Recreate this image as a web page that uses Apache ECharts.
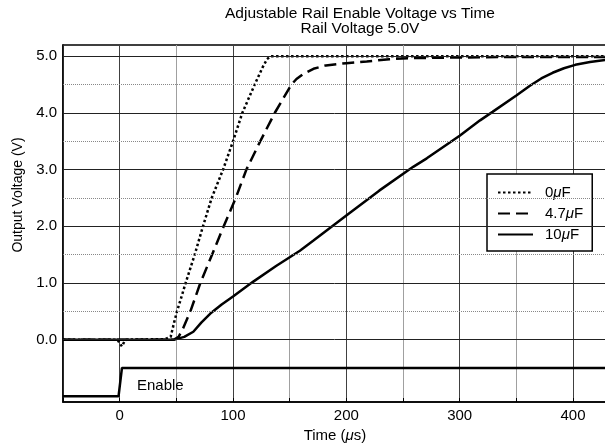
<!DOCTYPE html>
<html>
<head>
<meta charset="utf-8">
<script src="https://cdn.jsdelivr.net/npm/echarts@6/dist/echarts.min.js"></script>
<style>
  html, body { margin: 0; padding: 0; background: #fff; }
  #c { width: 605px; height: 444px; }
</style>
</head>
<body>
<div id="c"></div>
<script>
// ---- data ----
const titleLines = ['Adjustable Rail Enable Voltage vs Time', 'Rail Voltage 5.0V'];
const xName = 'Time (μs)';
const yName = 'Output Voltage (V)';
const seriesNames = ['0μF', '4.7μF', '10μF'];
const enableText = 'Enable';

const xMin = -50, xMax = 430, xStep = 50, xLabelStep = 100;
const yMin = -1.1, yMax = 5.2;
const yTickValues = [0, 1, 2, 3, 4, 5];
const yMajorGrid = [0, 1, 2, 3, 4, 5];
const yMinorGrid = [0.5, 1.5, 2.5, 3.5, 4.5];

const x0uF = [-50, -2, 0, 2, 4, 6, 40, 45, 48, 50.6, 54, 58.2, 66.2, 73.5, 81.2, 91.2, 100, 108.2, 119.1, 126, 130, 133, 200, 300, 430];
const y0uF = [0, 0, -0.06, -0.12, -0.04, 0, 0.01, 0.05, 0.3, 0.5, 0.72, 1.0, 1.5, 2.0, 2.5, 3.0, 3.5, 4.0, 4.5, 4.8, 4.95, 5.0, 5.0, 5.0, 5.0];

const x47uF = [-50, 48, 52, 56, 62.4, 71.2, 81.5, 91.8, 102.4, 111.8, 124, 136.8, 151.5, 156, 162, 171, 182, 200, 218, 238, 259, 300, 350, 430];
const y47uF = [0, 0, 0.05, 0.2, 0.5, 1.0, 1.5, 2.0, 2.5, 3.0, 3.5, 4.0, 4.5, 4.6, 4.69, 4.78, 4.84, 4.88, 4.91, 4.95, 4.97, 4.98, 4.99, 4.99];

const x10uF = [-50, 48, 57, 65, 72, 80, 90, 100, 117.6, 138, 159, 171, 200, 229, 259, 271, 300, 318, 329, 350, 362, 372, 382, 392, 402, 415, 430];
const y10uF = [0, 0, 0.05, 0.14, 0.3, 0.46, 0.62, 0.76, 1.02, 1.3, 1.57, 1.75, 2.19, 2.63, 3.05, 3.2, 3.6, 3.87, 4.02, 4.31, 4.48, 4.61, 4.71, 4.79, 4.85, 4.9, 4.94];

const xEnable = [-50, -1, 2, 430];
const yEnable = [-1.0, -1.0, -0.5, -0.5];

// ---- chart ----
const FONT = '"Liberation Sans", Arial, Helvetica, sans-serif';
const zip = (xs, ys) => xs.map((x, i) => [x, ys[i]]);
const italicMu = s => s.replace('μ', '{i|μ}');

const chart = echarts.init(document.getElementById('c'), null, { renderer: 'canvas' });

const curveStyle = (type) => ({ color: '#000', width: 2.5, type: type, cap: 'butt' });

const option = {
  animation: false,
  backgroundColor: '#fff',
  textStyle: { fontFamily: FONT, color: '#000' },
  grid: {
    left: 63, top: 45, width: 544, height: 357,
    containLabel: false, outerBoundsMode: 'none',
    show: true, borderColor: '#000', borderWidth: 1.5, backgroundColor: 'transparent'
  },
  xAxis: {
    type: 'value', min: xMin, max: xMax, interval: xStep,
    name: italicMu(xName), nameLocation: 'middle', nameGap: 26,
    nameTextStyle: { fontSize: 15, color: '#000', fontFamily: FONT,
      rich: { i: { fontStyle: 'italic', fontSize: 15, fontFamily: FONT } } },
    axisLine: { show: true, onZero: false, lineStyle: { color: '#000', width: 1.5 } },
    axisTick: { show: true, inside: true, length: 4, lineStyle: { color: '#000' } },
    axisLabel: { fontSize: 15, color: '#000', margin: 6, fontFamily: FONT,
      formatter: v => (v % xLabelStep === 0 ? String(v) : '') },
    splitLine: { show: true, lineStyle: { color: ['#a0a0a0', '#404040'], width: 1 } }
  },
  yAxis: {
    type: 'value', min: yMin, max: yMax,
    axisLine: { show: true, onZero: false, lineStyle: { color: '#000', width: 1.5 } },
    axisTick: { show: false },
    splitLine: { show: false },
    axisLabel: { customValues: yTickValues, fontSize: 15, color: '#000', margin: 6, fontFamily: FONT,
      formatter: v => v.toFixed(1) }
  },
  legend: {
    data: seriesNames, orient: 'vertical', left: 487, top: 174,
    padding: [11, 9, 9, 10], itemWidth: 35, itemHeight: 14, itemGap: 6,
    backgroundColor: '#fff', borderColor: '#000', borderWidth: 1.5, borderRadius: 0,
    selectedMode: false,
    itemStyle: { color: 'transparent', borderWidth: 0, opacity: 0 },
    formatter: n => italicMu(n),
    textStyle: { fontSize: 15, color: '#000', lineHeight: 14, padding: [0, 0, 0, 7], fontFamily: FONT,
      rich: { i: { fontStyle: 'italic', fontSize: 15, fontFamily: FONT } } }
  },
  graphic: [
    { type: 'text', x: 360, y: 6.5, z: 10,
      style: { text: titleLines.join('\n'), font: '15.5px ' + FONT, fill: '#000',
        align: 'center', verticalAlign: 'top', lineHeight: 15 } },
    { type: 'text', x: 18, y: 195, rotation: Math.PI / 2, z: 10,
      style: { text: yName, font: '14px ' + FONT, fill: '#000', align: 'center', verticalAlign: 'middle' } },
    { type: 'text', x: 137, y: 386, z: 10,
      style: { text: enableText, font: '15px ' + FONT, fill: '#000', align: 'left', verticalAlign: 'middle' } }
  ],
  series: [
    { name: 'gridMajor', type: 'line', data: [], z: 1, silent: true,
      markLine: { silent: true, animation: false, symbol: ['none', 'none'], label: { show: false },
        lineStyle: { color: '#222', width: 1, type: 'solid' },
        data: yMajorGrid.map(v => ({ yAxis: v })) } },
    { name: 'gridMinor', type: 'line', data: [], z: 1, silent: true,
      markLine: { silent: true, animation: false, symbol: ['none', 'none'], label: { show: false },
        lineStyle: { color: '#888', width: 1, type: [1, 1] },
        data: yMinorGrid.map(v => ({ yAxis: v })) } },
    { name: seriesNames[0], type: 'line', data: zip(x0uF, y0uF), symbol: 'none', z: 3,
      lineStyle: curveStyle([2.5, 2.5]), itemStyle: { color: '#000' } },
    { name: seriesNames[1], type: 'line', data: zip(x47uF, y47uF), symbol: 'none', z: 3,
      lineStyle: curveStyle([12, 6]), itemStyle: { color: '#000' } },
    { name: seriesNames[2], type: 'line', data: zip(x10uF, y10uF), symbol: 'none', z: 3,
      lineStyle: curveStyle('solid'), itemStyle: { color: '#000' } },
    { name: 'Enable', type: 'line', data: zip(xEnable, yEnable), symbol: 'none', z: 3,
      lineStyle: curveStyle('solid'), itemStyle: { color: '#000' } }
  ]
};
chart.setOption(option);
</script>
</body>
</html>
